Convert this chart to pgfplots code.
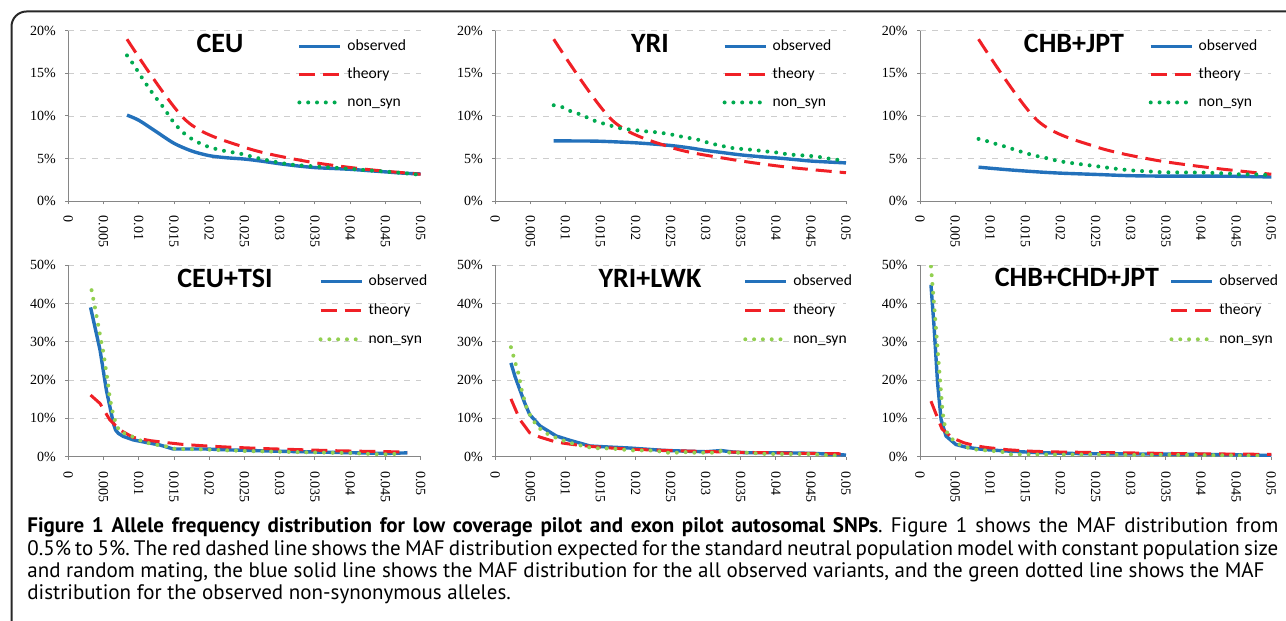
\documentclass[border=0pt]{standalone}
\usepackage{fontspec}
\usepackage{pgfplots}
\pgfplotsset{compat=1.18}
\setmainfont{Carlito}
\newfontfamily\tickfontfam{Liberation Serif}
\newfontfamily\capfontfam{PT Sans}
\newcommand\tl[1]{\mbox{\fontsize{7}{8}\selectfont\tickfontfam #1}}
\newcommand\legfont{\fontsize{7.8}{9}\selectfont}
\newcommand\titlefont{\fontsize{14}{16}\selectfont\bfseries}
\newcommand\capfont{\fontsize{10.5}{12}\selectfont\capfontfam\frenchspacing}
\definecolor{cblue}{RGB}{35,113,187}
\definecolor{cred}{RGB}{240,32,38}
\definecolor{cgreenD}{RGB}{0,170,80}
\definecolor{cgreenL}{RGB}{146,208,80}
\definecolor{axisgray}{RGB}{134,134,134}
\definecolor{gridgray}{RGB}{205,205,205}
\definecolor{framegray}{RGB}{40,40,40}
\pgfplotsset{
  mypanel/.style={
    scale only axis, anchor=south west,
    xmin=0, xmax=0.05, ymin=0,
    scaled x ticks=false, scaled y ticks=false,
    axis x line*=bottom, axis y line*=left,
    axis line style={draw=axisgray, line width=0.5pt},
    tick style={draw=axisgray, line width=0.5pt},
    tick align=outside, major tick length=1.5pt,
    ymajorgrids, grid style={dashed, draw=gridgray, line width=0.4pt},
    xtick={0,0.005,0.01,0.015,0.02,0.025,0.03,0.035,0.04,0.045,0.05},
    xticklabels={\tl{0},\tl{0.005},\tl{0.01},\tl{0.015},\tl{0.02},\tl{0.025},\tl{0.03},\tl{0.035},\tl{0.04},\tl{0.045},\tl{0.05}},
    xticklabel style={yshift=-5.5pt, rotate=-90, anchor=west, inner sep=0pt},
    yticklabel style={anchor=east, inner sep=0pt, xshift=-4.5pt},
    legend image code/.code={\draw[#1] (0pt,0pt) -- (20.5pt,0pt);},
    legend style={draw=none, fill=none, inner sep=0pt, anchor=north west,
      font=\legfont, row sep=7pt, column sep=2.5pt,
      nodes={inner sep=0pt, text height=5.5pt, text depth=1.5pt},
      cells={anchor=west}},
  },
  toprow/.style={mypanel, ymax=20, height=85.3pt,
    ytick={0,5,10,15,20}, yticklabels={\tl{0\%},\tl{5\%},\tl{10\%},\tl{15\%},\tl{20\%}}},
  botrow/.style={mypanel, ymax=50, height=95.7pt,
    ytick={0,10,20,30,40,50}, yticklabels={\tl{0\%},\tl{10\%},\tl{20\%},\tl{30\%},\tl{40\%},\tl{50\%}},
    legend style={row sep=7.5pt}},
  obs/.style={color=cblue, line width=1.7pt, line join=round},
  theo/.style={color=cred, line width=1.5pt, dash pattern=on 8pt off 4pt},
  nsynD/.style={color=cgreenD, line width=2pt, line cap=round, dash pattern=on 0pt off 4.4pt},
  nsynL/.style={color=cgreenL, line width=2pt, line cap=round, dash pattern=on 0pt off 4.4pt},
}
\begin{document}
\begin{tikzpicture}
\useasboundingbox (0,0) rectangle (643pt,310.5pt);
\draw[framegray, line width=1pt, rounded corners=7.5pt] (5.75pt,-2pt) |- (650pt,304.75pt);

% ---------- CEU ----------
\begin{axis}[toprow, at={(34.15pt,209.85pt)}, width=176.2pt,
  legend style={at={(0.649,0.951)}}]
\addplot[obs, smooth] coordinates {(0.00833,10.1) (0.01,9.5) (0.0125,8.15) (0.015,6.8) (0.0175,5.9) (0.02,5.35) (0.0225,5.1) (0.025,4.95) (0.0275,4.7) (0.03,4.4) (0.0325,4.15) (0.035,3.95) (0.0375,3.85) (0.04,3.75) (0.0425,3.6) (0.045,3.45) (0.0475,3.3) (0.05,3.2)};
\addplot[theo, smooth] coordinates {(0.00833,19.0) (0.01667,9.5) (0.025,6.33) (0.03333,4.75) (0.04167,3.8) (0.05,3.17)};
\addplot[nsynD, smooth] coordinates {(0.00833,17.1) (0.0092,16.1) (0.0106,14.3) (0.0121,12.5) (0.0135,11.0) (0.0151,9.1) (0.0169,7.65) (0.0192,6.6) (0.0216,6.0) (0.0243,5.6) (0.0267,5.1) (0.0292,4.65) (0.0317,4.3) (0.0348,4.1) (0.0376,3.95) (0.04,3.8) (0.0423,3.65) (0.0447,3.5) (0.047,3.35) (0.05,3.1)};
\legend{observed,theory,non\_syn}
\end{axis}

% ---------- YRI ----------
\begin{axis}[toprow, at={(247.65pt,209.85pt)}, width=175.35pt,
  legend style={at={(0.647,0.951)}}]
\addplot[obs, smooth] coordinates {(0.00833,7.08) (0.012,7.07) (0.0149,7.04) (0.0201,6.85) (0.0249,6.55) (0.0278,6.25) (0.0301,5.95) (0.0325,5.7) (0.0349,5.45) (0.0382,5.2) (0.0406,5.05) (0.043,4.87) (0.0453,4.7) (0.05,4.5)};
\addplot[theo, smooth] coordinates {(0.00833,19.0) (0.01667,9.5) (0.025,6.33) (0.03333,4.95) (0.04167,4.0) (0.05,3.35)};
\addplot[nsynD, smooth] coordinates {(0.00833,11.26) (0.0097,11.0) (0.0109,10.5) (0.0121,10.2) (0.0133,9.75) (0.0144,9.36) (0.0157,9.05) (0.017,8.74) (0.0183,8.47) (0.0195,8.4) (0.0209,8.24) (0.0221,8.16) (0.0234,8.05) (0.0246,7.9) (0.0259,7.7) (0.0272,7.47) (0.0285,7.31) (0.0298,7.0) (0.031,6.73) (0.0323,6.5) (0.0336,6.27) (0.0349,6.15) (0.0362,6.07) (0.0375,5.96) (0.0387,5.84) (0.04,5.73) (0.0412,5.57) (0.0425,5.45) (0.0438,5.38) (0.0451,5.3) (0.0463,5.18) (0.0476,5.0) (0.05,4.72)};
\legend{observed,theory,non\_syn}
\end{axis}

% ---------- CHB+JPT ----------
\begin{axis}[toprow, at={(460pt,209.85pt)}, width=175.65pt,
  legend style={at={(0.650,0.951)}}]
\addplot[obs, smooth] coordinates {(0.00833,4.0) (0.0125,3.7) (0.0167,3.45) (0.02,3.3) (0.025,3.15) (0.03,3.0) (0.035,2.95) (0.04,2.95) (0.045,2.93) (0.05,2.85)};
\addplot[theo, smooth] coordinates {(0.00833,19.0) (0.01667,9.5) (0.025,6.4) (0.03333,4.85) (0.04167,3.9) (0.05,3.17)};
\addplot[nsynD, smooth] coordinates {(0.00833,7.31) (0.0096,7.04) (0.0109,6.7) (0.0121,6.42) (0.0134,6.07) (0.0146,5.76) (0.0159,5.45) (0.0171,5.22) (0.0184,4.99) (0.0197,4.72) (0.021,4.56) (0.0222,4.41) (0.0235,4.29) (0.0248,4.14) (0.026,4.02) (0.0273,3.87) (0.0286,3.75) (0.0299,3.64) (0.0312,3.56) (0.0324,3.52) (0.0337,3.44) (0.035,3.4) (0.04,3.37) (0.0415,3.33) (0.044,3.25) (0.0453,3.17) (0.048,3.15) (0.05,3.06)};
\legend{observed,theory,non\_syn}
\end{axis}

% ---------- CEU+TSI ----------
\begin{axis}[botrow, at={(34.15pt,82.15pt)}, width=176.2pt,
  legend style={at={(0.709,0.955)}}]
\addplot[obs] coordinates {(0.00316,39.0) (0.0045,27.9) (0.0054,17.4) (0.0064,8.7) (0.0067,7.0) (0.0071,6.1) (0.0078,5.3) (0.0092,4.4) (0.0111,3.7) (0.013,3.05) (0.0149,2.0) (0.0168,2.0) (0.0196,2.0) (0.0234,1.74) (0.0281,1.5) (0.0329,1.3) (0.0376,1.13) (0.0423,0.96) (0.045,0.85) (0.0481,1.0)};
\addplot[theo] coordinates {(0.00316,16.1) (0.0045,13.9) (0.0059,9.6) (0.0073,7.0) (0.0092,5.05) (0.0116,4.2) (0.014,3.66) (0.0163,3.2) (0.0196,2.8) (0.0234,2.44) (0.0281,2.1) (0.0329,1.83) (0.0376,1.57) (0.0423,1.4) (0.0481,1.22)};
\addplot[nsynL] coordinates {(0.0033,43.5) (0.0038,38.8) (0.0045,31.8) (0.005,27.0) (0.0055,20.8) (0.0059,15.2) (0.0064,10.7) (0.0068,8.5) (0.0073,6.5) (0.0087,5.66) (0.0098,4.53) (0.0111,3.66) (0.0124,3.14) (0.0137,2.79) (0.0149,2.1) (0.0162,2.0) (0.0187,1.92) (0.0213,1.74) (0.025,1.5) (0.03,1.3) (0.035,1.1) (0.04,0.95) (0.0445,0.6) (0.0475,0.8)};
\legend{observed,theory,non\_syn}
\end{axis}

% ---------- YRI+LWK ----------
\begin{axis}[botrow, at={(247.65pt,82.15pt)}, width=175.35pt,
  legend style={at={(0.706,0.955)}}]
\addplot[obs] coordinates {(0.00223,24.5) (0.0028,21.0) (0.0035,17.5) (0.0042,14.0) (0.0049,11.0) (0.0064,8.0) (0.0087,5.4) (0.0106,4.3) (0.0135,2.8) (0.0154,2.6) (0.0192,2.26) (0.024,1.65) (0.0278,1.4) (0.03,1.3) (0.0322,1.6) (0.034,1.2) (0.0358,1.04) (0.0406,1.04) (0.0453,0.87) (0.05,0.43)};
\addplot[theo] coordinates {(0.00223,15.1) (0.0035,9.7) (0.0049,6.25) (0.0064,5.1) (0.0087,3.8) (0.011,3.2) (0.0135,2.7) (0.017,2.2) (0.02,1.9) (0.025,1.6) (0.03,1.35) (0.035,1.15) (0.04,1.0) (0.045,0.85) (0.05,0.75)};
\addplot[nsynL] coordinates {(0.00223,28.6) (0.0026,26.2) (0.0033,21.7) (0.0038,17.1) (0.0045,12.5) (0.0051,10.4) (0.0058,8.4) (0.0067,6.7) (0.0078,5.6) (0.009,4.7) (0.0103,3.8) (0.0116,3.2) (0.0129,2.6) (0.0142,2.2) (0.0154,2.2) (0.0167,2.1) (0.018,1.9) (0.0192,1.65) (0.0219,1.65) (0.0231,1.5) (0.0244,1.04) (0.0257,1.04) (0.027,1.2) (0.0283,1.04) (0.031,1.04) (0.0322,1.5) (0.0335,1.04) (0.036,1.04) (0.0374,0.87) (0.0387,0.7) (0.045,0.7) (0.0476,0.35) (0.049,0.35)};
\legend{observed,theory,non\_syn}
\end{axis}

% ---------- CHB+CHD+JPT ----------
\begin{axis}[botrow, at={(460pt,82.15pt)}, width=175.65pt,
  legend style={at={(0.709,0.955)}}]
\addplot[obs] coordinates {(0.00156,44.9) (0.002,34.0) (0.0025,19.3) (0.003,9.7) (0.0037,5.4) (0.0051,3.2) (0.0065,2.5) (0.0089,1.9) (0.0122,1.5) (0.017,1.04) (0.023,0.8) (0.032,0.7) (0.04,0.6) (0.05,0.35)};
\addplot[theo] coordinates {(0.00156,14.5) (0.003125,7.25) (0.0047,4.83) (0.00625,3.63) (0.0078,2.9) (0.0094,2.42) (0.0125,1.81) (0.0156,1.45) (0.0188,1.25) (0.025,1.1) (0.03125,0.95) (0.0375,0.8) (0.04375,0.7) (0.05,0.6)};
\addplot[nsynL] coordinates {(0.00156,49.7) (0.0021,37.6) (0.0026,25.8) (0.003,16.7) (0.0032,11.9) (0.0034,9.3) (0.0037,6.7) (0.0044,5.0) (0.0051,3.6) (0.0065,2.5) (0.0078,1.9) (0.0103,1.5) (0.0116,1.3) (0.0129,0.6) (0.015,0.6) (0.02,0.55) (0.025,0.6) (0.03,0.45) (0.035,0.5) (0.04,0.4) (0.045,0.35) (0.049,0.2)};
\legend{observed,theory,non\_syn}
\end{axis}

% titles
\node[anchor=base, inner sep=0pt, font=\titlefont] at (110pt,284.4pt) {CEU};
\node[anchor=base, inner sep=0pt, font=\titlefont] at (325pt,284.4pt) {YRI};
\node[anchor=base, inner sep=0pt, font=\titlefont] at (537pt,284.4pt) {CHB+JPT};
\node[anchor=base, inner sep=0pt, font=\titlefont] at (112.5pt,166.9pt) {CEU+TSI};
\node[anchor=base, inner sep=0pt, font=\titlefont] at (325pt,166.9pt) {YRI+LWK};
\node[anchor=base, inner sep=0pt, font=\titlefont] at (538.5pt,167.1pt) {CHB+CHD+JPT};

% caption
\node[anchor=base west, inner sep=0pt, font=\capfont] at (13.5pt,44pt) {\makebox[625.5pt][s]{\textbf{Figure 1 Allele frequency distribution for low coverage pilot and exon pilot autosomal SNPs}. Figure 1 shows the MAF distribution from}};
\node[anchor=base west, inner sep=0pt, font=\capfont] at (13.5pt,32.5pt) {\makebox[625.5pt][s]{0.5\% to 5\%. The red dashed line shows the MAF distribution expected for the standard neutral population model with constant population size}};
\node[anchor=base west, inner sep=0pt, font=\capfont] at (13.5pt,21.5pt) {and random mating, the blue solid line shows the MAF distribution for the all observed variants, and the green dotted line shows the MAF};
\node[anchor=base west, inner sep=0pt, font=\capfont] at (13.5pt,10.5pt) {distribution for the observed non-synonymous alleles.};
\end{tikzpicture}
\end{document}
